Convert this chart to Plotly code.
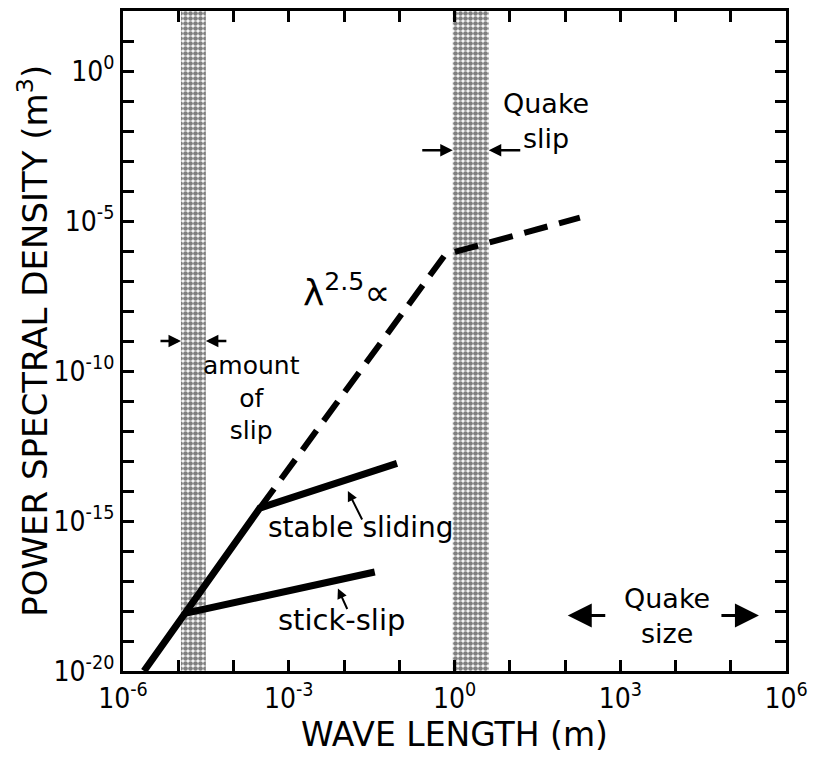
import math
import plotly.graph_objects as go

# ---- data ----
# solid line: common steep part + "stable sliding" branch
stable_x = [2.4e-6, 3.0e-4, 0.091]
stable_y = [1e-20, 2.7e-15, 8.3e-14]
# "stick-slip" branch
stick_x = [1.32e-5, 0.036]
stick_y = [8.3e-19, 2.0e-17]
# dashed extrapolation (lambda^2.5 then flatter)
dash_x = [3.0e-4, 0.68, 186]
dash_y = [2.7e-15, 7.6e-7, 1.3e-5]
# shaded bands (wavelength limits)
slip_band = [1.12e-5, 3.16e-5]
quake_band = [0.93, 4.17]

x_exp = list(range(-6, 7))
y_exp = list(range(-20, 3))
x_labeled = [-6, -3, 0, 3, 6]
y_labeled = [-20, -15, -10, -5, 0]

TICKFONT = "DejaVu Sans Condensed, DejaVu Sans, sans-serif"
FONT = "DejaVu Sans, sans-serif"
YMIN, YMAX = 1e-20, 1e2

fig = go.Figure()

for band in (slip_band, quake_band):
    fig.add_trace(go.Scatter(
        x=[band[0], band[1], band[1], band[0], band[0]],
        y=[YMIN, YMIN, YMAX, YMAX, YMIN],
        mode="lines", fill="toself", line=dict(width=0, color="black"),
        fillcolor="white",
        fillpattern=dict(shape=".", fgcolor="black", bgcolor="white", size=5, solidity=0.7),
        hoverinfo="skip"))

fig.add_trace(go.Scatter(x=dash_x, y=dash_y, mode="lines",
                         line=dict(color="black", width=6, dash="24px,12px")))
fig.add_trace(go.Scatter(x=stable_x, y=stable_y, mode="lines",
                         line=dict(color="black", width=7)))
fig.add_trace(go.Scatter(x=stick_x, y=stick_y, mode="lines",
                         line=dict(color="black", width=7)))

axis_common = dict(type="log", showgrid=False, zeroline=False, showline=True,
                   linecolor="black", linewidth=3, mirror="ticks", ticks="inside",
                   ticklen=11, tickwidth=3, tickcolor="black",
                   tickfont=dict(family=TICKFONT, size=28, color="black"))

fig.update_xaxes(range=[-6, 6], tickmode="array",
                 tickvals=[10.0 ** k for k in x_exp],
                 ticktext=[f"10<sup>{k}</sup>" if k in x_labeled else "" for k in x_exp],
                 title=dict(text="WAVE LENGTH (m)", font=dict(family=FONT, size=33, color="black"),
                            standoff=8),
                 **axis_common)
fig.update_yaxes(range=[-20, 2], tickmode="array",
                 tickvals=[10.0 ** k for k in y_exp],
                 ticktext=[f"10<sup>{k}</sup>" if k in y_labeled else "" for k in y_exp],
                 **axis_common)

ann = []
# y-axis title (placed as rotated text to sit at the reference's left edge)
ann.append(dict(x=-0.136, y=0.5, xref="paper", yref="paper", xanchor="center", yanchor="middle",
                text="POWER SPECTRAL DENSITY (m<sup>3</sup>)", textangle=-90, showarrow=False,
                font=dict(family=FONT, size=34, color="black")))

def text(x, y, t, size=28):
    ann.append(dict(x=x, y=y, xref="x", yref="y", text=t, showarrow=False,
                    font=dict(family=FONT, size=size, color="black"), align="center"))
def arrow(x, y, ax, ay, size=1.0, width=2.5, head=2):
    ann.append(dict(x=x, y=y, xref="x", yref="y", ax=ax, ay=ay, text="",
                    showarrow=True, arrowhead=head, arrowsize=size, arrowwidth=width,
                    arrowcolor="black"))

text(1.66, -1.68, "Quake<br>slip", size=27)
text(-3.67, -10.9, "amount<br>of<br>slip", size=25)
text(-1.95, -7.3, "λ<sup>2.5</sup>∝", size=36)
text(-1.69, -15.2, "stable sliding")
text(-2.05, -18.3, "stick-slip", size=29)
text(3.85, -18.15, "Quake<br>size", size=27)

# amount of slip arrows
arrow(math.log10(slip_band[0]), -9.0, -22, 0)
arrow(math.log10(slip_band[1]), -9.0, 22, 0)
# quake slip arrows
arrow(math.log10(quake_band[0]), -2.64, -32, 0)
arrow(math.log10(quake_band[1]), -2.64, 33, 0)
# quake size arrows
arrow(2.05, -18.15, 39, 0, size=1.6, width=3)
arrow(5.51, -18.15, -39, 0, size=1.6, width=3)
# label pointers
arrow(-1.93, -14.0, 15, 30, size=1.0, width=2)
arrow(-2.11, -17.25, 10, 22, size=1.0, width=2)

# page body has an 8px margin; size the figure so the plot frame lands where the reference has it
fig.update_layout(width=811, height=754, margin=dict(l=115, r=33, t=0, b=91),
                  plot_bgcolor="white", paper_bgcolor="white", showlegend=False,
                  annotations=ann)

fig.write_html("out.html")
